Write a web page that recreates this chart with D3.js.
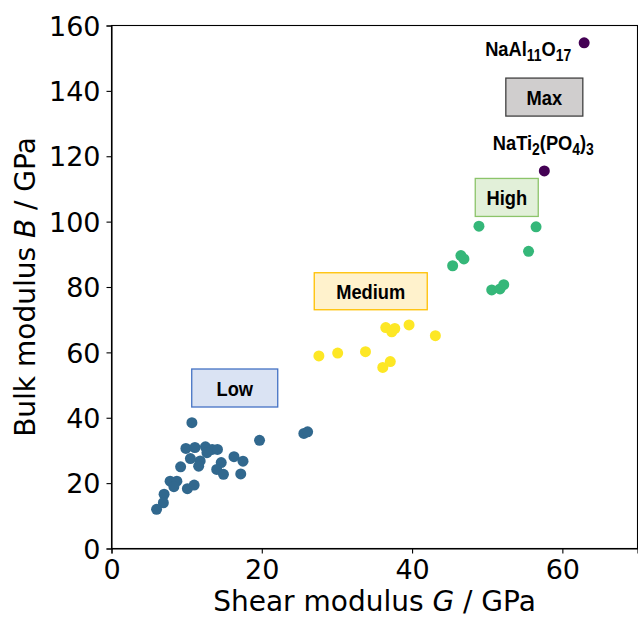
<!DOCTYPE html>
<html>
<head>
<meta charset="utf-8">
<script src="https://cdn.jsdelivr.net/npm/d3@7"></script>
<style>
  html, body { margin: 0; padding: 0; background: #fff; }
  svg { display: block; }
</style>
</head>
<body>
<div id="chart"></div>
<script>
// Shear modulus G (GPa) and bulk modulus B (GPa) per stiffness class
const lowG = [10.7, 25.6, 26.1, 19.7, 9.9, 11.1, 12.5, 13.4, 14.1, 10.5, 11.8, 12.7, 11.6, 9.2,
              14.6, 14.0, 14.9, 16.3, 17.5, 17.2, 7.8, 8.7, 8.3, 10.1, 11.0, 7.0, 6.9, 6.0];
const lowB = [38.5, 35.2, 35.7, 33.1, 30.6, 30.9, 31.1, 30.3, 30.3, 27.5, 26.8, 29.3, 25.2, 25.0,
              26.3, 24.2, 22.7, 28.1, 26.7, 22.8, 20.6, 20.6, 18.9, 18.3, 19.4, 16.6, 14.0, 12.0];

const mediumG = [27.6, 30.1, 33.8, 36.5, 37.7, 37.3, 39.6, 43.1, 36.1, 37.1];
const mediumB = [58.9, 59.8, 60.2, 67.6, 67.3, 66.3, 68.4, 65.1, 55.4, 57.2];

const highG = [48.9, 56.5, 55.5, 46.5, 46.9, 45.4, 50.6, 51.7, 52.2];
const highB = [98.6, 98.4, 90.9, 89.6, 88.6, 86.5, 79.1, 79.4, 80.7];

const maxG = [57.6, 62.9];
const maxB = [115.5, 154.7];

const xTicks = [0, 20, 40, 60];
const yTicks = [0, 20, 40, 60, 80, 100, 120, 140, 160];

const classNames = ["Low", "Medium", "High", "Max"];
const classColors = ["#31688e", "#fde725", "#35b779", "#440154"];

// Class label boxes: centre in data units, size in pixels
const boxG = [16.4, 34.5, 52.6, 57.6];
const boxB = [49.1, 78.7, 107.4, 138.1];
const boxFill = ["#dae3f3", "#fff2cc", "#e2f0d9", "#d0cece"];
const boxStroke = ["#4472c4", "#ffc000", "#8cc46a", "#404040"];
const boxW = [86, 113, 63, 77];
const boxH = [38, 37, 38, 38];

const W = 638, H = 619;
const margin = { left: 111.5, top: 25.5, right: 0.5, bottom: 70.5 };

const svg = d3.select("#chart").append("svg")
  .attr("width", W).attr("height", H);

const x = d3.scaleLinear().domain([0, 70]).range([margin.left, W - margin.right]);
const y = d3.scaleLinear().domain([0, 160]).range([H - margin.bottom, margin.top]);

const axisFont = "'DejaVu Sans', sans-serif";

// Axes frame
svg.append("rect")
  .attr("x", x(0)).attr("y", y(160))
  .attr("width", x(70) - x(0)).attr("height", y(0) - y(160))
  .attr("fill", "none").attr("stroke", "#000").attr("stroke-width", 1.1);

const xAxis = svg.append("g")
  .attr("transform", `translate(0,${y(0)})`)
  .call(d3.axisBottom(x).tickValues(xTicks).tickSize(5).tickPadding(6).tickFormat(d3.format("d")));
const yAxis = svg.append("g")
  .attr("transform", `translate(${x(0)},0)`)
  .call(d3.axisLeft(y).tickValues(yTicks).tickSize(5).tickPadding(6).tickFormat(d3.format("d")));

[xAxis, yAxis].forEach(a => {
  a.select(".domain").attr("stroke", "#000").attr("stroke-width", 1.1);
  a.selectAll(".tick line").attr("stroke", "#000").attr("stroke-width", 1.1);
  a.selectAll(".tick text").attr("fill", "#000")
    .style("font-family", axisFont).style("font-size", "27px");
});
yAxis.selectAll(".tick text").attr("dy", "0.36em");

// Axis titles
const xt = svg.append("text")
  .attr("x", (x(0) + x(70)) / 2).attr("y", 611)
  .attr("text-anchor", "middle")
  .style("font-family", axisFont).style("font-size", "28px");
xt.append("tspan").text("Shear modulus ");
xt.append("tspan").style("font-style", "italic").text("G");
xt.append("tspan").text(" / GPa");

const yt = svg.append("text")
  .attr("transform", `translate(35,${(y(0) + y(160)) / 2}) rotate(-90)`)
  .attr("text-anchor", "middle")
  .style("font-family", axisFont).style("font-size", "28px");
yt.append("tspan").text("Bulk modulus ");
yt.append("tspan").style("font-style", "italic").text("B");
yt.append("tspan").text(" / GPa");

// Scatter points per class
const groups = [
  { g: lowG, b: lowB },
  { g: mediumG, b: mediumB },
  { g: highG, b: highB },
  { g: maxG, b: maxB }
];
groups.forEach((grp, i) => {
  svg.append("g").selectAll("circle")
    .data(grp.g.map((gv, k) => ({ G: gv, B: grp.b[k] })))
    .join("circle")
    .attr("cx", d => x(d.G))
    .attr("cy", d => y(d.B))
    .attr("r", 5.5)
    .attr("fill", classColors[i]);
});

// Condensed bold label text, anchored at (px, py)
const labelFont = "'Liberation Sans', Arial, sans-serif";
const squeeze = 0.87;
function label(px, py, anchor) {
  return svg.append("text")
    .attr("transform", `translate(${px},${py}) scale(${squeeze},1)`)
    .attr("text-anchor", anchor)
    .style("font-family", labelFont).style("font-weight", "bold").style("font-size", "21px")
    .attr("fill", "#000");
}

// Class label boxes
classNames.forEach((name, i) => {
  const cx = x(boxG[i]), cy = y(boxB[i]);
  svg.append("rect")
    .attr("x", cx - boxW[i] / 2).attr("y", cy - boxH[i] / 2)
    .attr("width", boxW[i]).attr("height", boxH[i])
    .attr("fill", boxFill[i]).attr("stroke", boxStroke[i]).attr("stroke-width", 1.3);
  label(cx, cy + 7.5, "middle").text(name);
});

// Compound names next to the two stiffest materials
function chem(sel, parts) {
  parts.forEach(p => {
    const t = sel.append("tspan").text(p[0]);
    if (p[1]) t.attr("baseline-shift", "-30%").style("font-size", "16px");
  });
}
chem(label(x(maxG[1]) - 13, y(maxB[1]) + 13, "end"), [["NaAl"], ["11", 1], ["O"], ["17", 1]]);
chem(label(x(maxG[0]) - 1, y(maxB[0]) - 21, "middle"), [["NaTi"], ["2", 1], ["(PO"], ["4", 1], [")"], ["3", 1]]);
</script>
</body>
</html>
